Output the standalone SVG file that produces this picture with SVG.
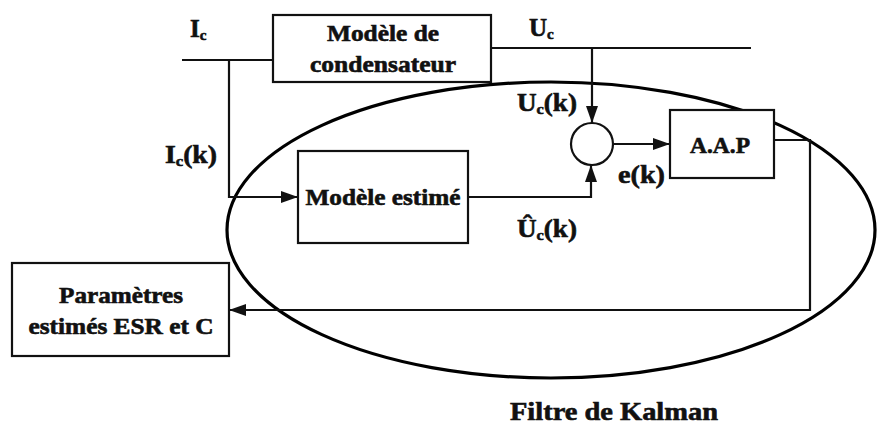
<svg xmlns="http://www.w3.org/2000/svg" width="877" height="426" viewBox="0 0 877 426">
<style>
text{font-family:'Liberation Serif','DejaVu Serif',serif;font-weight:700;fill:#111;stroke:#111;stroke-width:0.6;font-size:23px}
.sub{font-size:15px}
.box{fill:#fff;stroke:#111;stroke-width:2.2}
.ln{fill:none;stroke:#111;stroke-width:2.2}
.ell{fill:none;stroke:#000;stroke-width:3.2}
</style>
<defs>
<marker id="ah" markerUnits="userSpaceOnUse" markerWidth="18" markerHeight="12" refX="17" refY="6" orient="auto">
<path d="M0,0 L17,6 L0,12 z" fill="#111"/>
</marker>
</defs>
<rect width="877" height="426" fill="#fff"/>
<g id="kalman">
<ellipse class="ell" cx="551" cy="230" rx="324" ry="148"/>
<text x="614" y="420" text-anchor="middle" textLength="208" lengthAdjust="spacingAndGlyphs" style="font-size:25px">Filtre de Kalman</text>
</g>
<g id="connectors">
<path class="ln" d="M182,60 H273"/>
<path class="ln" d="M229,60 V197 H298" marker-end="url(#ah)"/>
<path class="ln" d="M491,48 H751"/>
<path class="ln" d="M592,48 V123" marker-end="url(#ah)"/>
<path class="ln" d="M468,197 H591 V165" marker-end="url(#ah)"/>
<path class="ln" d="M613,144 H670" marker-end="url(#ah)"/>
<path class="ln" d="M774,140 H810 V310 H229" marker-end="url(#ah)"/>
</g>
<g id="labels">
<text x="190" y="37" style="font-size:25px">I<tspan class="sub" dy="3">c</tspan></text>
<text x="529" y="36" style="font-size:25px">U<tspan class="sub" dy="3">c</tspan></text>
<text x="517" y="111" textLength="60" lengthAdjust="spacingAndGlyphs" style="font-size:25px">U<tspan class="sub" dy="3">c</tspan><tspan dy="-3">(k)</tspan></text>
<text x="165" y="163" textLength="52" lengthAdjust="spacingAndGlyphs" style="font-size:25px">I<tspan class="sub" dy="3">c</tspan><tspan dy="-3">(k)</tspan></text>
<text x="618" y="183" textLength="47" lengthAdjust="spacingAndGlyphs" style="font-size:25px">e(k)</text>
<text x="517" y="237" textLength="60" lengthAdjust="spacingAndGlyphs" style="font-size:25px">Û<tspan class="sub" dy="3">c</tspan><tspan dy="-3">(k)</tspan></text>
</g>
<g id="modele-condensateur">
<rect class="box" x="273" y="15" width="218" height="67"/>
<text x="383" y="41" text-anchor="middle" textLength="112" lengthAdjust="spacingAndGlyphs">Modèle de</text>
<text x="383" y="72" text-anchor="middle" textLength="146" lengthAdjust="spacingAndGlyphs">condensateur</text>
</g>
<g id="modele-estime">
<rect class="box" x="298" y="151" width="170" height="92"/>
<text x="383" y="205" text-anchor="middle" textLength="155" lengthAdjust="spacingAndGlyphs">Modèle estimé</text>
</g>
<g id="sommateur">
<circle class="box" cx="592" cy="144" r="21"/>
</g>
<g id="aap">
<rect class="box" x="670" y="110" width="104" height="68"/>
<text x="720" y="153" text-anchor="middle" textLength="60" lengthAdjust="spacingAndGlyphs">A.A.P</text>
</g>
<g id="parametres">
<rect class="box" x="12" y="263" width="217" height="93"/>
<text x="121" y="303" text-anchor="middle" textLength="124" lengthAdjust="spacingAndGlyphs">Paramètres</text>
<text x="121" y="334" text-anchor="middle" textLength="185" lengthAdjust="spacingAndGlyphs">estimés ESR et C</text>
</g>
</svg>
